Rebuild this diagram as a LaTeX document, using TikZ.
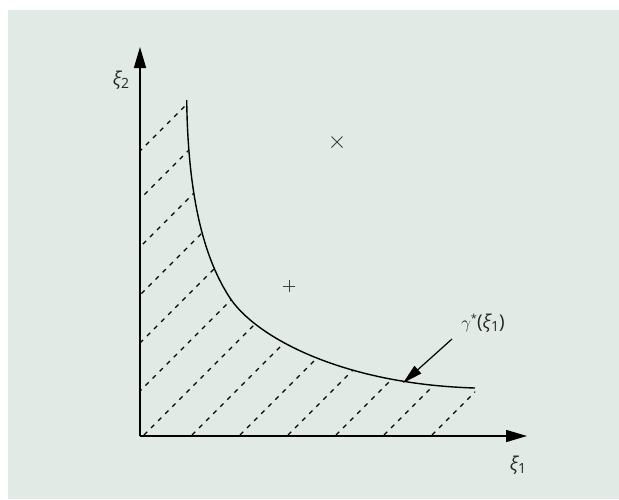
\documentclass[tikz,border=0pt]{standalone}
\usepackage{fontspec}
\newfontfamily\lblfont{Open Sans}
\usetikzlibrary{arrows.meta}
\definecolor{bgc}{HTML}{E1EAE5}
\begin{document}
\begin{tikzpicture}[x=1pt,y=-1pt,
  axis/.style={line width=1.5pt, draw=black, -{Triangle[length=21pt,width=12pt]}},
  hatchline/.style={line width=1.2pt, dash pattern=on 4.5pt off 5.5pt},
  curveline/.style={line width=1.4pt},
  lbl/.style={font=\lblfont\fontsize{19}{21}\selectfont, inner sep=0pt, text=black!85},
  markline/.style={line width=1pt, draw=black!75}]
\useasboundingbox (0,0) rectangle (619,499);
\fill[bgc] (8,10) rectangle (619,499);
% hatching clipped to the region under the curve
\begin{scope}
\clip (140,436) -- (140,100) -- (186.7,100) .. controls (188,200) and (205,260) .. (230,298) .. controls (255,336) and (340,384) .. (475,388) -- (475,436) -- cycle;
\foreach \k in {-285,-237,-189,-141,-93,-45,3,51,99,147,195,243,291}{
  \draw[hatchline] ({140+\k+1},435) -- ({140+\k+401},35);
}
\end{scope}
% curve
\draw[curveline] (186.7,100) .. controls (188,200) and (205,260) .. (230,298) .. controls (255,336) and (340,384) .. (475,388);
% axes
\coordinate (O) at (140,436);
\coordinate (ytip) at (140,47);
\coordinate (xtip) at (527,436);
\draw[axis] (O) -- (ytip);
\draw[axis] (O) -- (xtip);
\node[lbl] (xi2) at (121,80) {\itshape ξ\raisebox{-0.35ex}{\upshape\fontsize{14}{16}\selectfont 2}};
\node[lbl] (xi1) at (518,465) {\itshape ξ\raisebox{-0.35ex}{\upshape\fontsize{14}{16}\selectfont 1}};
% gamma label and arrow
\node[lbl] (gam) at (483,323) {$\gamma$\raisebox{0.6ex}{\upshape\fontsize{11}{13}\selectfont *}\upshape(\itshape ξ\raisebox{-0.35ex}{\upshape\fontsize{14}{16}\selectfont 1}\upshape)};
\coordinate (gtip) at (403,383);
\coordinate (gstart) at (452,339);
\draw[line width=1.2pt, -{Triangle[length=20pt,width=10pt]}] (gstart) -- (gtip);
% markers
\coordinate (cross) at (337,142);
\coordinate (plus) at (289,286);
\draw[markline] ([shift={(-5.5,-5.5)}]cross) -- ([shift={(5.5,5.5)}]cross);
\draw[markline] ([shift={(-5.5,5.5)}]cross) -- ([shift={(5.5,-5.5)}]cross);
\draw[markline] ([shift={(-6,0)}]plus) -- ([shift={(6,0)}]plus);
\draw[markline] ([shift={(0,-6)}]plus) -- ([shift={(0,6)}]plus);
\end{tikzpicture}
\end{document}
